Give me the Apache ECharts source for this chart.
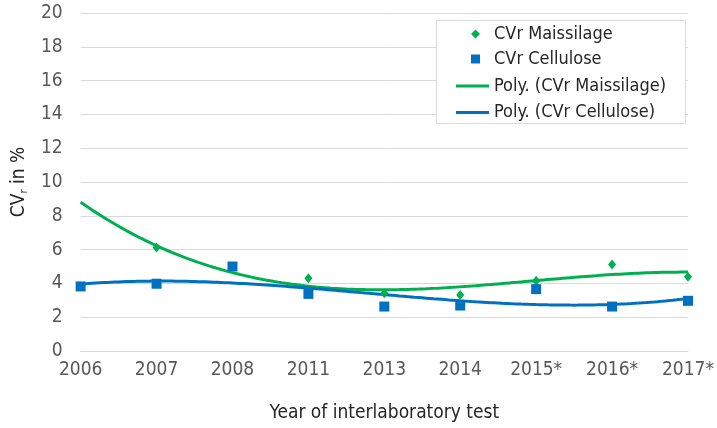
<!DOCTYPE html>
<html>
<head>
<meta charset="utf-8">
<script src="https://cdn.jsdelivr.net/npm/echarts@6/dist/echarts.min.js"></script>
<style>
  html, body { margin: 0; padding: 0; background: #ffffff; }
  #chart { width: 717px; height: 428px; }
</style>
</head>
<body>
<div id="chart"></div>
<script>
// Interlaboratory test years (category positions 0..8)
const years = ['2006', '2007', '2008', '2011', '2013', '2014', '2015*', '2016*', '2017*'];

// Repeatability coefficient of variation CVr in %
const cvrMaissilage = [null, 6.13, null, 4.31, 3.42, 3.32, 4.15, 5.12, 4.39];
const cvrCellulose  = [3.82, 3.98, 5.00, 3.38, 2.63, 2.69, 3.66, 2.63, 2.97];

// Y axis ticks
const yMin = 0, yMax = 20, yStep = 2;

// Least-squares polynomial fit (degree 3) over the non-empty points
function polyFit(values, degree) {
  const pts = [];
  values.forEach((v, i) => { if (v !== null) pts.push([i, v]); });
  const n = degree + 1;
  const A = Array.from({ length: n }, () => new Array(n + 1).fill(0));
  pts.forEach(([x, y]) => {
    for (let r = 0; r < n; r++) {
      for (let c = 0; c < n; c++) A[r][c] += Math.pow(x, r + c);
      A[r][n] += y * Math.pow(x, r);
    }
  });
  for (let p = 0; p < n; p++) {
    let best = p;
    for (let r = p + 1; r < n; r++) if (Math.abs(A[r][p]) > Math.abs(A[best][p])) best = r;
    [A[p], A[best]] = [A[best], A[p]];
    for (let r = 0; r < n; r++) {
      if (r === p) continue;
      const f = A[r][p] / A[p][p];
      for (let c = p; c <= n; c++) A[r][c] -= f * A[p][c];
    }
  }
  return A.map((row, i) => row[n] / row[i]);
}

// Sample the fitted trend polynomial across the whole category range
function trendCurve(values) {
  const coef = polyFit(values, 3);
  const out = [];
  for (let k = 0; k <= 160; k++) {
    const x = (years.length - 1) * k / 160;
    let y = 0;
    coef.forEach((c, p) => { y += c * Math.pow(x, p); });
    out.push([x, y]);
  }
  return out;
}

const toPairs = arr => arr.map((v, i) => [i, v]).filter(p => p[1] !== null);

const GREEN = '#00B050';
const BLUE = '#0070C0';
const FONT = '"DejaVu Sans Condensed", "DejaVu Sans", sans-serif';
const TEXT_DARK = '#262626';
const TEXT_GRAY = '#595959';

const chart = echarts.init(document.getElementById('chart'), null, { renderer: 'canvas' });

const legendText = { fontFamily: FONT, fontSize: 18, color: TEXT_DARK, lineHeight: 20 };

chart.setOption({
  animation: false,
  backgroundColor: '#ffffff',
  textStyle: { fontFamily: FONT },
  grid: { left: 80, right: 29, top: 13, bottom: 77 },
  // legend frame
  graphic: [{
    type: 'rect',
    z: 3,
    shape: { x: 436.5, y: 20.5, width: 249, height: 103 },
    style: { fill: '#ffffff', stroke: '#d9d9d9', lineWidth: 1 }
  }],
  legend: [
    {
      // marker entries
      orient: 'vertical',
      left: 471,
      top: 24,
      padding: 0,
      itemGap: 5,
      itemWidth: 9,
      itemHeight: 9,
      textStyle: Object.assign({}, legendText, { padding: [0, 0, 0, 9] }),
      z: 4,
      data: [
        { name: 'CVr Maissilage', icon: 'diamond' },
        { name: 'CVr Cellulose', icon: 'rect' }
      ]
    },
    {
      // trendline entries
      orient: 'vertical',
      left: 456,
      top: 76,
      padding: 0,
      itemGap: 6.5,
      itemWidth: 33,
      itemHeight: 3,
      textStyle: legendText,
      z: 4,
      data: [
        { name: 'Poly. (CVr Maissilage)', icon: 'rect' },
        { name: 'Poly. (CVr Cellulose)', icon: 'rect' }
      ]
    }
  ],
  xAxis: {
    type: 'value',
    min: 0,
    max: years.length - 1,
    interval: 1,
    name: 'Year of interlaboratory test',
    nameLocation: 'middle',
    nameGap: 53,
    nameTextStyle: { fontFamily: FONT, fontSize: 19, color: TEXT_DARK },
    axisLine: { show: true, lineStyle: { color: '#d9d9d9', width: 1 } },
    axisTick: { show: false },
    splitLine: { show: false },
    axisLabel: {
      margin: 10,
      fontSize: 19,
      color: TEXT_GRAY,
      fontFamily: FONT,
      formatter: v => years[v] !== undefined ? years[v] : ''
    }
  },
  yAxis: {
    type: 'value',
    min: yMin,
    max: yMax,
    interval: yStep,
    name: 'CV{sub|r} in %',
    nameLocation: 'middle',
    nameGap: 43,
    nameRotate: 90,
    nameTextStyle: {
      fontFamily: FONT, fontSize: 19, color: TEXT_DARK, lineHeight: 22,
      rich: { sub: { fontSize: 11, lineHeight: 6, verticalAlign: 'bottom', color: TEXT_DARK, fontFamily: FONT } }
    },
    axisLine: { show: false },
    axisTick: { show: false },
    splitLine: { lineStyle: { color: '#d9d9d9', width: 1 } },
    axisLabel: { margin: 18, fontSize: 19, color: TEXT_GRAY, fontFamily: FONT }
  },
  series: [
    {
      name: 'Poly. (CVr Maissilage)',
      type: 'line',
      data: trendCurve(cvrMaissilage),
      showSymbol: false,
      symbol: 'none',
      lineStyle: { color: GREEN, width: 3 },
      itemStyle: { color: GREEN },
      z: 2
    },
    {
      name: 'Poly. (CVr Cellulose)',
      type: 'line',
      data: trendCurve(cvrCellulose),
      showSymbol: false,
      symbol: 'none',
      lineStyle: { color: BLUE, width: 3 },
      itemStyle: { color: BLUE },
      z: 2
    },
    {
      name: 'CVr Maissilage',
      type: 'scatter',
      data: toPairs(cvrMaissilage),
      symbol: 'diamond',
      symbolSize: [8, 10],
      itemStyle: { color: GREEN, opacity: 1 },
      z: 2
    },
    {
      name: 'CVr Cellulose',
      type: 'scatter',
      data: toPairs(cvrCellulose),
      symbol: 'rect',
      symbolSize: 10,
      itemStyle: { color: BLUE, opacity: 1 },
      z: 2
    }
  ]
});
</script>
</body>
</html>
